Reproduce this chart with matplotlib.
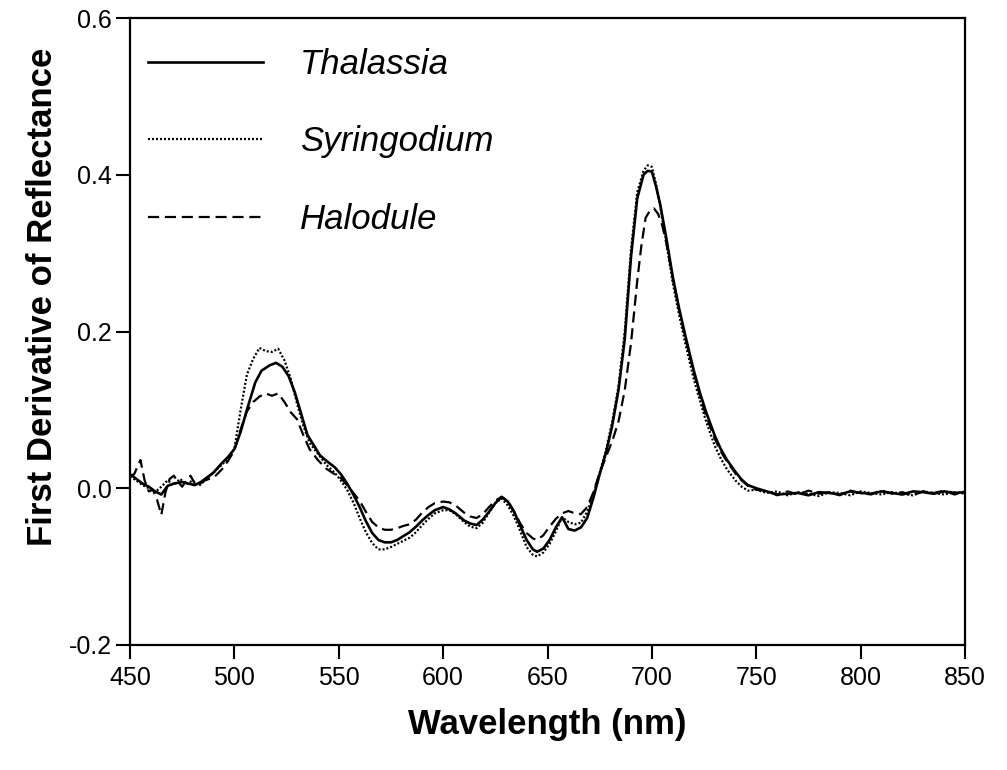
import matplotlib
matplotlib.use("Agg")
import matplotlib.pyplot as plt

plt.rcParams['font.family'] = ['Liberation Sans', 'DejaVu Sans']

# ---------------- data ----------------
thal_wl = [450, 453, 456, 459, 462, 465, 468, 471, 475, 478, 481, 484, 487, 490, 494, 497,
           500, 503, 506, 510, 513, 517, 520, 523, 526, 529, 532, 535, 538, 541, 545, 548,
           551, 554, 557, 560, 563, 566, 569, 572, 575, 578, 581, 584, 587, 590, 593, 596,
           600, 603, 606, 610, 613, 616, 619, 622, 625, 628, 631, 634, 637, 640, 643, 645,
           648, 651, 654, 657, 660, 663, 666, 669, 672, 675, 678, 681, 684, 687, 690, 693,
           696, 698, 700, 702, 704, 707, 710, 713, 716, 720, 723, 726, 730, 733, 736, 740,
           743, 746, 750, 755, 760, 765, 770, 775, 780, 785, 790, 795, 800, 805, 810, 815,
           820, 825, 830, 835, 840, 845, 850]
thal_val = [0.018, 0.012, 0.006, 0.002, -0.004, -0.008, 0.003, 0.006, 0.008, 0.006, 0.004, 0.008,
            0.014, 0.020, 0.032, 0.040, 0.050, 0.072, 0.100, 0.135, 0.150, 0.157, 0.160, 0.155,
            0.143, 0.122, 0.095, 0.068, 0.055, 0.042, 0.033, 0.027, 0.018, 0.006, -0.008, -0.024,
            -0.042, -0.057, -0.066, -0.069, -0.069, -0.066, -0.061, -0.056, -0.049, -0.041, -0.034,
            -0.028, -0.024, -0.027, -0.032, -0.041, -0.045, -0.047, -0.040, -0.030, -0.019, -0.011,
            -0.017, -0.030, -0.048, -0.066, -0.078, -0.081, -0.077, -0.066, -0.050, -0.037, -0.052,
            -0.054, -0.050, -0.038, -0.012, 0.018, 0.045, 0.080, 0.125, 0.190, 0.295, 0.370, 0.400,
            0.405, 0.404, 0.385, 0.362, 0.318, 0.270, 0.230, 0.195, 0.151, 0.122, 0.097, 0.068,
            0.050, 0.036, 0.021, 0.011, 0.004, 0.000, -0.004, -0.008, -0.007, -0.006, -0.009,
            -0.005, -0.006, -0.008, -0.004, -0.006, -0.007, -0.004, -0.006, -0.008, -0.004, -0.005,
            -0.007, -0.004, -0.006, -0.005]

syr_wl = [450, 453, 456, 459, 462, 465, 468, 471, 474, 477, 480, 483, 486, 490, 494, 497,
          500, 503, 506, 509, 512, 515, 518, 521, 524, 527, 530, 533, 536, 540, 544, 548,
          551, 554, 557, 560, 563, 566, 569, 572, 575, 578, 581, 584, 587, 590, 593, 596,
          600, 603, 606, 610, 613, 616, 619, 622, 625, 628, 631, 634, 637, 640, 643, 645,
          648, 651, 654, 657, 660, 663, 666, 669, 672, 675, 678, 681, 684, 687, 690, 693,
          696, 698, 700, 702, 704, 707, 710, 713, 716, 720, 723, 726, 730, 733, 736, 740,
          743, 746, 750, 755, 760, 765, 770, 775, 780, 785, 790, 795, 800, 805, 810, 815,
          820, 825, 830, 835, 840, 845, 850]
syr_val = [0.015, 0.010, 0.004, 0.000, -0.005, 0.002, 0.010, 0.004, 0.012, 0.005, 0.010, 0.003,
           0.010, 0.020, 0.030, 0.038, 0.050, 0.100, 0.145, 0.165, 0.179, 0.175, 0.174, 0.178,
           0.163, 0.140, 0.108, 0.080, 0.058, 0.044, 0.030, 0.020, 0.010, -0.002, -0.018, -0.038,
           -0.056, -0.070, -0.078, -0.078, -0.075, -0.071, -0.067, -0.063, -0.056, -0.047, -0.039,
           -0.032, -0.028, -0.028, -0.033, -0.043, -0.049, -0.051, -0.044, -0.031, -0.019, -0.013,
           -0.022, -0.036, -0.055, -0.075, -0.085, -0.087, -0.082, -0.071, -0.055, -0.037, -0.043,
           -0.046, -0.044, -0.030, -0.008, 0.020, 0.048, 0.085, 0.130, 0.200, 0.305, 0.378, 0.405,
           0.412, 0.410, 0.388, 0.360, 0.312, 0.262, 0.222, 0.185, 0.140, 0.112, 0.085, 0.055,
           0.038, 0.024, 0.010, 0.002, -0.003, -0.002, -0.006, -0.004, -0.009, -0.005, -0.007,
           -0.010, -0.005, -0.006, -0.009, -0.004, -0.006, -0.008, -0.005, -0.007, -0.009, -0.004,
           -0.006, -0.008, -0.005, -0.007]

hal_wl = [450, 452, 455, 457, 459, 461, 463, 465, 467, 469, 471, 473, 475, 477, 479, 481,
          483, 485, 488, 491, 494, 497, 500, 503, 506, 509, 512, 515, 518, 521, 524, 527,
          530, 533, 536, 540, 544, 548, 551, 554, 557, 560, 563, 566, 569, 572, 575, 578,
          581, 584, 587, 590, 593, 596, 600, 603, 606, 610, 613, 616, 619, 622, 625, 628,
          631, 634, 637, 640, 643, 645, 648, 651, 654, 657, 660, 663, 666, 669, 672, 675,
          678, 681, 684, 687, 690, 693, 695, 697, 699, 701, 703, 705, 707, 710, 713, 716,
          720, 723, 726, 730, 733, 736, 740, 743, 746, 750, 755, 760, 765, 770, 775, 780,
          785, 790, 795, 800, 805, 810, 815, 820, 825, 830, 835, 840, 845, 850]
hal_val = [0.015, 0.018, 0.036, 0.010, -0.004, -0.002, -0.015, -0.034, -0.005, 0.012, 0.016,
           0.008, 0.002, 0.010, 0.016, 0.006, 0.004, 0.009, 0.012, 0.016, 0.024, 0.035, 0.048,
           0.075, 0.098, 0.110, 0.117, 0.121, 0.118, 0.121, 0.110, 0.097, 0.088, 0.068, 0.050,
           0.036, 0.025, 0.018, 0.013, 0.004, -0.006, -0.016, -0.030, -0.043, -0.050, -0.053,
           -0.053, -0.051, -0.048, -0.046, -0.040, -0.031, -0.024, -0.019, -0.017, -0.018, -0.022,
           -0.031, -0.036, -0.038, -0.033, -0.024, -0.016, -0.011, -0.016, -0.030, -0.045, -0.057,
           -0.064, -0.066, -0.060, -0.049, -0.039, -0.032, -0.029, -0.032, -0.033, -0.024, -0.005,
           0.020, 0.040, 0.060, 0.085, 0.125, 0.185, 0.265, 0.310, 0.345, 0.354, 0.357, 0.350,
           0.335, 0.312, 0.268, 0.228, 0.192, 0.148, 0.118, 0.092, 0.064, 0.047, 0.034, 0.019,
           0.010, 0.003, -0.002, -0.003, -0.009, -0.004, -0.008, -0.003, -0.007, -0.005, -0.009,
           -0.003, -0.006, -0.008, -0.003, -0.007, -0.005, -0.009, -0.004, -0.006, -0.003, -0.008,
           -0.004]

series_names = ['Thalassia', 'Syringodium', 'Halodule']
x_ticks = [450, 500, 550, 600, 650, 700, 750, 800, 850]
y_ticks = [-0.2, 0.0, 0.2, 0.4, 0.6]
y_ticklabels = ['-0.2', '0.0', '0.2', '0.4', '0.6']

# ---------------- figure ----------------
fig = plt.figure(figsize=(10.07, 7.70), dpi=100)
ax = fig.add_axes([130 / 1007, 1 - 645 / 770, 835 / 1007, 627 / 770])

ax.plot(thal_wl, thal_val, color='black', lw=1.9, linestyle='-', label=series_names[0])
ax.plot(syr_wl, syr_val, color='black', lw=1.6, linestyle=(0, (0.9, 0.9)), label=series_names[1])
ax.plot(hal_wl, hal_val, color='black', lw=1.6, linestyle=(0, (5.0, 2.6)), label=series_names[2])

ax.set_xlim(450, 850)
ax.set_ylim(-0.2, 0.6)
ax.set_xticks(x_ticks)
ax.set_yticks(y_ticks)
ax.set_yticklabels(y_ticklabels)
ax.tick_params(axis='both', direction='out', length=10, width=1.5, labelsize=18, color='black')
ax.tick_params(axis='x', pad=5)
ax.tick_params(axis='y', pad=3)
for sp in ax.spines.values():
    sp.set_linewidth(1.6)

ax.set_xlabel('Wavelength (nm)', fontsize=25, fontweight='bold', labelpad=13)
ax.set_ylabel('First Derivative of Reflectance', fontsize=25, fontweight='bold', labelpad=7)
ax.yaxis.label.set_y(0.555)

leg = ax.legend(loc='upper left', bbox_to_anchor=((148 - 130) / 835, 1 - (48 - 18) / 627),
                frameon=False, borderpad=0, borderaxespad=0, handlelength=3.31,
                handletextpad=1.07, labelspacing=1.28,
                prop={'size': 25, 'style': 'italic'})

fig.savefig('out.png', dpi=100)
